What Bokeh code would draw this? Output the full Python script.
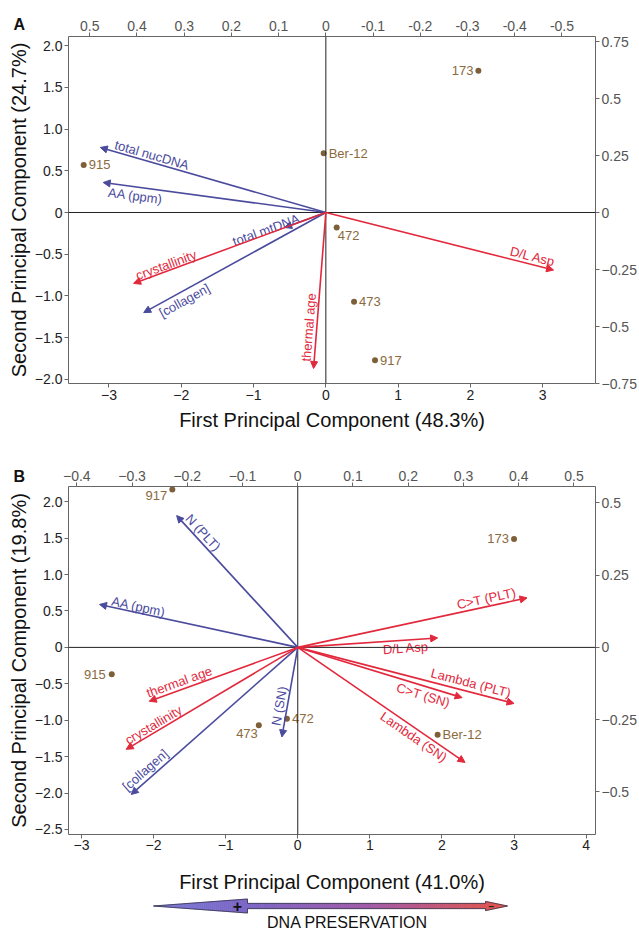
import math
from bokeh.plotting import figure
from bokeh.models import (Range1d, LinearAxis, FixedTicker, CustomJSTickFormatter, Span,
                          Arrow, NormalHead, ColumnDataSource, Title)
from bokeh.layouts import column
from bokeh.embed import file_html
from bokeh.resources import INLINE
from bokeh.core.properties import value

# ---------------- data: panel A ----------------
a_sample_names = ["173", "Ber-12", "915", "472", "473", "917"]
a_sample_x = [2.11, -0.03, -3.35, 0.15, 0.39, 0.68]
a_sample_y = [1.70, 0.71, 0.57, -0.18, -1.07, -1.77]

a_var_names = ["total nucDNA", "AA (ppm)", "total mtDNA", "crystallinity", "[collagen]", "thermal age", "D/L Asp"]
a_var_x = [-3.12, -3.08, -0.57, -2.66, -2.52, -0.17, 3.15]
a_var_y = [0.78, 0.36, -0.18, -0.85, -1.20, -1.87, -0.69]
a_var_group = ["pres", "pres", "pres", "deg", "pres", "deg", "deg"]

a_xlabel = "First Principal Component (48.3%)"
a_ylabel = "Second Principal Component (24.7%)"
a_bottom_ticks = [-3, -2, -1, 0, 1, 2, 3]
a_left_ticks = [-2.0, -1.5, -1.0, -0.5, 0, 0.5, 1.0, 1.5, 2.0]
a_top_ticks = [0.5, 0.4, 0.3, 0.2, 0.1, 0, -0.1, -0.2, -0.3, -0.4, -0.5]
a_right_ticks = [-0.75, -0.5, -0.25, 0, 0.25, 0.5, 0.75]

# ---------------- data: panel B ----------------
b_sample_names = ["917", "173", "915", "473", "472", "Ber-12"]
b_sample_x = [-1.74, 3.00, -2.58, -0.54, -0.15, 1.94]
b_sample_y = [2.17, 1.49, -0.37, -1.07, -0.98, -1.20]

b_var_names = ["N (PLT)", "AA (ppm)", "C>T (PLT)", "D/L Asp", "Lambda (PLT)", "C>T (SN)",
               "Lambda (SN)", "thermal age", "crystallinity", "[collagen]", "N (SN)"]
b_var_x = [-1.68, -2.75, 3.18, 1.94, 3.00, 2.28, 2.32, -2.06, -2.38, -2.31, -0.22]
b_var_y = [1.81, 0.59, 0.68, 0.13, -0.77, -0.69, -1.58, -0.74, -1.40, -2.02, -1.23]
b_var_group = ["pres", "pres", "deg", "deg", "deg", "deg", "deg", "deg", "deg", "pres", "pres"]

b_xlabel = "First Principal Component (41.0%)"
b_ylabel = "Second Principal Component (19.8%)"
b_bottom_ticks = [-3, -2, -1, 0, 1, 2, 3, 4]
b_left_ticks = [-2.5, -2.0, -1.5, -1.0, -0.5, 0, 0.5, 1.0, 1.5, 2.0]
b_top_ticks = [-0.4, -0.3, -0.2, -0.1, 0, 0.1, 0.2, 0.3, 0.4, 0.5]
b_right_ticks = [-0.5, -0.25, 0, 0.25, 0.5]

# ---------------- styles / layout ----------------
FONT = "Liberation Sans"
BLUE = "#4b4b9e"
RED = "#e2283c"
PT = "#7d5f3a"
PT_TXT = "#8a6a3e"
W = 639
ML, MR = 68, 44

# label placement along arrows: (fraction along arrow, perpendicular px offset)
a_lab_t = [0.78, 0.85, 1.42, 0.82, 0.80, 0.74, 0.90]
a_lab_d = [7, -9, 4, 6, -9, 8, 8]
b_lab_t = [0.83, 0.81, 0.83, 0.77, 0.79, 0.78, 0.72, 0.78, 0.82, 0.88, 0.67]
b_lab_d = [8, 6, 8, -8, 9, -9, -8, 8, 7, 9, 8]
# sample label placement
a_pt_align = ["right", "left", "left", "left", "left", "left"]
a_pt_dx = [-5, 5, 5, 1, 5, 5]
a_pt_dy = [0, 0, 0, 8, 0, 0]
b_pt_align = ["right", "right", "right", "right", "left", "left"]
b_pt_dx = [-5, -5, -6, -1, 5, 5]
b_pt_dy = [6, 0, 0, 8, 0, 0]

JS = """
if (Math.abs(tick) < 1e-9) { return "0"; }
var s = (dec < 0) ? String(parseFloat(tick.toFixed(4))) : tick.toFixed(dec);
return s.replace("-", minus);
"""


def fmt(dec, minus="\u2212"):
    return CustomJSTickFormatter(args=dict(dec=dec, minus=minus), code=JS)


def style_axis(ax, color, tick_out=4, standoff=2):
    ax.major_label_text_font = FONT
    ax.major_label_text_font_size = "14px"
    ax.major_label_text_color = color
    ax.axis_line_color = "#666666"
    ax.major_tick_line_color = "#666666"
    ax.major_tick_in = 0
    ax.major_tick_out = tick_out
    ax.minor_tick_line_color = None
    ax.major_label_standoff = standoff
    ax.axis_label_text_font = FONT
    ax.axis_label_text_font_size = "20px"
    ax.axis_label_text_font_style = "normal"
    ax.axis_label_text_color = "#111111"


def panel(letter, letter_standoff, xr, yr, top_r, right_r, fh, mt, mb, ticks, fmts, xlabel, ylabel, xlab_standoff,
          bottom_standoff, sx_names, sx, sy, pt_align, pt_dx, pt_dy,
          v_names, vx, vy, vgroup, lab_t, lab_d):
    H = mt + fh + mb
    p = figure(width=W, height=H, x_range=Range1d(*xr), y_range=Range1d(*yr),
               output_backend="svg", toolbar_location=None,
               x_axis_location=None, y_axis_location=None,
               min_border_left=ML, min_border_right=MR, min_border_top=mt, min_border_bottom=mb,
               outline_line_color=None, background_fill_color="white")
    p.grid.visible = False
    p.extra_x_ranges = {"top": Range1d(*top_r)}
    p.extra_y_ranges = {"right": Range1d(*right_r)}

    bt, lt, tt, rt = ticks
    bf, lf, tf, rf = fmts
    ax_b = LinearAxis(ticker=FixedTicker(ticks=bt), formatter=bf, axis_label=xlabel)
    style_axis(ax_b, "#222222", standoff=bottom_standoff)
    ax_b.axis_label_standoff = xlab_standoff
    ax_l = LinearAxis(ticker=FixedTicker(ticks=lt), formatter=lf, axis_label=ylabel)
    style_axis(ax_l, "#222222")
    ax_l.axis_label_standoff = 2
    ax_t = LinearAxis(x_range_name="top", ticker=FixedTicker(ticks=tt), formatter=tf)
    style_axis(ax_t, "#555555")
    ax_r = LinearAxis(y_range_name="right", ticker=FixedTicker(ticks=rt), formatter=rf)
    style_axis(ax_r, "#555555")
    p.add_layout(ax_b, "below")
    p.add_layout(ax_l, "left")
    p.add_layout(ax_t, "above")
    p.add_layout(ax_r, "right")

    # panel letter, drawn in the top margin
    p.add_layout(Title(text=letter, align="left", offset=-55, vertical_align="bottom",
                       standoff=letter_standoff, text_font=FONT, text_font_size="16px",
                       text_font_style="bold", text_color="#111111"), "above")

    p.add_layout(Span(location=0, dimension="width", line_color="#222222", line_width=1))
    p.add_layout(Span(location=0, dimension="height", line_color="#222222", line_width=1))

    fw = W - ML - MR
    kx = fw / (xr[1] - xr[0])
    ky = fh / (yr[1] - yr[0])

    for grp, col in (("pres", BLUE), ("deg", RED)):
        idx = [i for i, g in enumerate(vgroup) if g == grp]
        src = ColumnDataSource(dict(x=[vx[i] for i in idx], y=[vy[i] for i in idx]))
        p.add_layout(Arrow(end=NormalHead(size=7, fill_color=col, line_color=col, line_width=1),
                           x_start=0, y_start=0, x_end="x", y_end="y", source=src,
                           line_color=col, line_width=1.6))
        lx, ly, la, ldx, ldy, lt_ = [], [], [], [], [], []
        for i in idx:
            t, d = lab_t[i], lab_d[i]
            a = math.atan2(vy[i] * ky, vx[i] * kx)
            if a > math.pi / 2 + 1e-6:
                a -= math.pi
            elif a < -math.pi / 2 - 1e-6:
                a += math.pi
            lx.append(vx[i] * t)
            ly.append(vy[i] * t)
            la.append(a)
            ldx.append(-d * math.sin(a))
            ldy.append(-d * math.cos(a))
            lt_.append(v_names[i])
        lsrc = ColumnDataSource(dict(x=lx, y=ly, a=la, dx=ldx, dy=ldy, t=lt_))
        p.text(x="x", y="y", text="t", angle="a", x_offset="dx", y_offset="dy", source=lsrc,
               text_font=value(FONT), text_font_size="13px", text_color=col,
               text_align="center", text_baseline="middle")

    psrc = ColumnDataSource(dict(x=sx, y=sy, t=sx_names, al=pt_align, dx=pt_dx, dy=pt_dy))
    p.scatter(x="x", y="y", source=psrc, size=6, fill_color=PT, line_color=None)
    p.text(x="x", y="y", text="t", x_offset="dx", y_offset="dy", text_align="al", source=psrc,
           text_font=value(FONT), text_font_size="13px", text_color=PT_TXT, text_baseline="middle")
    return p


pa = panel("A", -30, (-3.56, 3.73), (-2.05, 2.11), (0.545, -0.571), (-0.75, 0.772),
           347, 36, 57,
           (a_bottom_ticks, a_left_ticks, a_top_ticks, a_right_ticks),
           (fmt(0), fmt(1), fmt(1, "-"), fmt(-1)),
           a_xlabel, a_ylabel, 6, 2,
           a_sample_names, a_sample_x, a_sample_y, a_pt_align, a_pt_dx, a_pt_dy,
           a_var_names, a_var_x, a_var_y, a_var_group, a_lab_t, a_lab_d)

pb = panel("B", -34, (-3.18, 4.13), (-2.57, 2.21), (-0.415, 0.539), (-0.648, 0.557),
           348, 46, 63,
           (b_bottom_ticks, b_left_ticks, b_top_ticks, b_right_ticks),
           (fmt(0), fmt(1), fmt(1), fmt(-1)),
           b_xlabel, b_ylabel, 18, 1,
           b_sample_names, b_sample_x, b_sample_y, b_pt_align, b_pt_dx, b_pt_dy,
           b_var_names, b_var_x, b_var_y, b_var_group, b_lab_t, b_lab_d)

# ---------------- decorative gradient arrow (data units = canvas pixels) ----------------
HC = 37
pc = figure(width=W, height=HC, x_range=Range1d(ML, W - MR), y_range=Range1d(0, HC),
            output_backend="svg", toolbar_location=None,
            x_axis_location=None, y_axis_location=None,
            min_border_left=ML, min_border_right=MR, min_border_top=0, min_border_bottom=0,
            outline_line_color=None)
pc.grid.visible = False

X_TIP_L, X_BASE_L, X_BASE_R, X_TIP_R, YC = 153, 247, 485, 507, 28.5
HL, HS, HR = 7.0, 2.6, 4.6


def half_h(x):
    if x <= X_BASE_L:
        return HL * (x - X_TIP_L) / (X_BASE_L - X_TIP_L)
    if x <= X_BASE_R:
        return HS
    return HR * (X_TIP_R - x) / (X_TIP_R - X_BASE_R)


stops = [(X_TIP_L, (122, 122, 214)), (X_BASE_L, (122, 100, 196)), (370, (160, 88, 165)), (X_TIP_R, (228, 82, 70))]


def grad(x):
    for (x0, c0), (x1, c1) in zip(stops[:-1], stops[1:]):
        if x0 <= x <= x1:
            f = (x - x0) / (x1 - x0)
            return "#%02x%02x%02x" % tuple(int(round(c0[k] + f * (c1[k] - c0[k]))) for k in range(3))
    return "#%02x%02x%02x" % stops[-1][1]


xs_l, ys_l, cols = [], [], []
edges = [X_TIP_L]
xcur = X_TIP_L
while xcur < X_TIP_R:
    nxt = xcur + 2.0
    for b in (X_BASE_L, X_BASE_R, X_TIP_R):
        if xcur < b < nxt:
            nxt = b
    nxt = min(nxt, X_TIP_R)
    edges.append(nxt)
    xcur = nxt
for x0, x1 in zip(edges[:-1], edges[1:]):
    if x0 == X_BASE_L:
        h0 = HS
    elif x0 == X_BASE_R:
        h0 = HR
    else:
        h0 = half_h(x0)
    h1 = HL if x1 == X_BASE_L else (HS if x1 == X_BASE_R else half_h(x1))
    xs_l.append([x0, x1, x1, x0])
    ys_l.append([YC - h0, YC - h1, YC + h1, YC + h0])
    cols.append(grad((x0 + x1) / 2))
pc.patches(xs_l, ys_l, fill_color=cols, line_color=cols, line_width=0.6)

ox = [X_TIP_L, X_BASE_L, X_BASE_L, X_BASE_R, X_BASE_R, X_TIP_R, X_BASE_R, X_BASE_R, X_BASE_L, X_BASE_L, X_TIP_L]
oy = [YC, YC + HL, YC + HS, YC + HS, YC + HR, YC, YC - HR, YC - HS, YC - HS, YC - HL, YC]
pc.patch(ox, oy, fill_color=None, line_color="#33334a", line_width=0.8)
pc.text(x=[237], y=[YC], text=["+"], text_font=value(FONT), text_font_size="16px", text_font_style="bold",
        text_color="#111111", text_align="center", text_baseline="middle")
pc.text(x=[491], y=[YC], text=["\u2212"], text_font=value(FONT), text_font_size="10px", text_font_style="bold",
        text_color="#222222", text_align="center", text_baseline="middle")
pc.text(x=[347], y=[12], text=["DNA PRESERVATION"], text_font=value(FONT), text_font_size="16px",
        text_color="#111111", text_align="center", text_baseline="middle")

layout = column(pa, pb, pc, spacing=0)
open("out.html", "w").write(file_html(layout, INLINE))
